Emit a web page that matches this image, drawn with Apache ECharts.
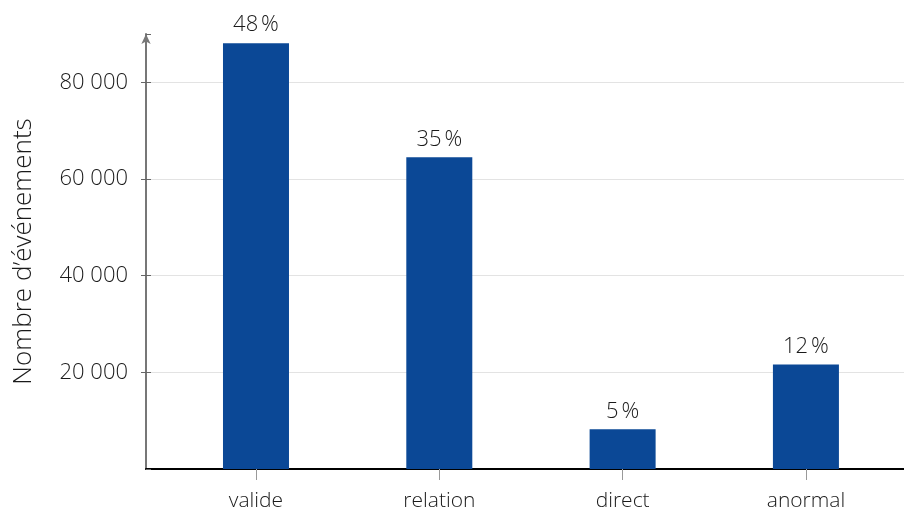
<!DOCTYPE html>
<html>
<head>
<meta charset="utf-8">
<script src="https://cdn.jsdelivr.net/npm/echarts@6/dist/echarts.min.js"></script>
<style>html,body{margin:0;padding:0;background:#fff}#c{width:904px;height:514px}</style>
</head>
<body>
<div id="c"></div>
<script>
const categories = ['valide', 'relation', 'direct', 'anormal'];
const values = [88100, 64500, 8200, 21600];
const percentLabels = ['48\u202f%', '35\u202f%', '5\u202f%', '12\u202f%'];
const yAxisTitle = 'Nombre d\u2019événements';

const font = '"Open Sans", "Noto Sans", sans-serif';
const fw = 300;
const chart = echarts.init(document.getElementById('c'));
chart.setOption({
  animation: false,
  grid: [
    { left: 146, right: 0, top: 34, bottom: 45, containLabel: false },
    { left: 164.33, right: 6.33, top: 34, bottom: 45, containLabel: false }
  ],
  xAxis: [{
    gridIndex: 0, type: 'value', min: -0.6, max: 3.535,
    axisLine: { show: true, onZero: false, lineStyle: { color: '#000', width: 2 } },
    splitLine: { show: false }, axisTick: { show: false }, axisLabel: { show: false }
  }, {
    gridIndex: 1, type: 'category', data: categories,
    axisLine: { show: false }, splitLine: { show: false },
    axisTick: { show: true, alignWithLabel: true, length: 11, lineStyle: { color: '#999', width: 1 } },
    axisLabel: { margin: 22, fontSize: 21, color: '#1a1a1a', fontFamily: font, fontWeight: fw }
  }],
  yAxis: [{
    gridIndex: 0, type: 'value', min: 0, max: 90000, interval: 20000,
    axisLine: { show: true, onZero: false, symbol: ['none', 'arrow'], symbolSize: [7, 10], lineStyle: { color: '#777', width: 2 } },
    axisTick: { show: true, length: 5, lineStyle: { color: '#666' } },
    splitLine: { show: true, showMinLine: false, showMaxLine: false, lineStyle: { color: '#e3e3e3', width: 1 } },
    axisLabel: { margin: 18, fontSize: 22, color: '#1a1a1a', fontFamily: font, fontWeight: fw,
      showMinLabel: false, showMaxLabel: false,
      formatter: v => (v === 0 || v === 90000) ? '' : v.toLocaleString('fr-FR').replace(/\s/g, ' ') },
    name: yAxisTitle, nameLocation: 'middle', nameGap: 109, nameRotate: 90,
    nameTextStyle: { fontSize: 26, color: '#1a1a1a', fontFamily: font, fontWeight: fw }
  }, {
    gridIndex: 0, type: 'value', min: 0, max: 90000, interval: 20000, position: 'left',
    axisLine: { show: false, onZero: false },
    axisTick: { show: true, inside: true, length: 5, lineStyle: { color: '#666' } },
    splitLine: { show: false }, axisLabel: { show: false }
  }, {
    gridIndex: 1, type: 'value', min: 0, max: 90000, show: false
  }],
  series: [{
    type: 'bar', xAxisIndex: 0, yAxisIndex: 0, barWidth: 66,
    itemStyle: { color: '#0B4896' },
    data: values.map((v, i) => [i, v]),
    label: { show: true, position: 'top', distance: 7, fontSize: 22, color: '#1a1a1a', fontFamily: font, fontWeight: fw,
      formatter: p => percentLabels[p.dataIndex] }
  }]
});
</script>
</body>
</html>
